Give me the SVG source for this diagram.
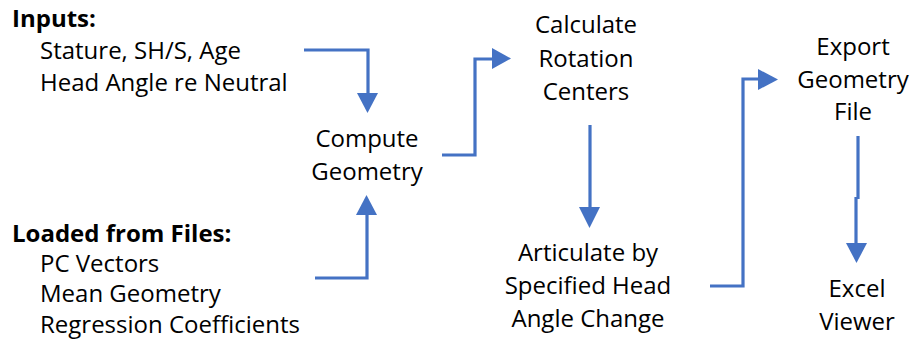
<svg xmlns="http://www.w3.org/2000/svg" width="918" height="346" viewBox="0 0 918 346">
<style>
text{font-family:"Open Sans",Lato,sans-serif;font-size:24px;fill:#000}
.b{font-weight:bold}
.c{text-anchor:middle}
.ln{fill:none;stroke:#4472C4;stroke-width:3.2;stroke-linejoin:miter}
.hd{fill:#4472C4}
</style>
<rect width="918" height="346" fill="#fff"/>
<g id="inputs">
<text x="12" y="27" class="b">Inputs:</text>
<text x="40" y="59">Stature, SH/S, Age</text>
<text x="40" y="91">Head Angle re Neutral</text>
</g>
<g id="loaded">
<text x="12" y="242" class="b">Loaded from Files:</text>
<text x="40" y="272">PC Vectors</text>
<text x="40" y="302">Mean Geometry</text>
<text x="40" y="333">Regression Coefficients</text>
</g>
<g id="compute">
<text x="367" y="147" class="c">Compute</text>
<text x="367" y="180" class="c">Geometry</text>
</g>
<g id="calculate">
<text x="586" y="33" class="c">Calculate</text>
<text x="586" y="67" class="c">Rotation</text>
<text x="586" y="100" class="c">Centers</text>
</g>
<g id="articulate">
<text x="588" y="261" class="c">Articulate by</text>
<text x="588" y="294" class="c">Specified Head</text>
<text x="588" y="327" class="c">Angle Change</text>
</g>
<g id="export">
<text x="853" y="55" class="c">Export</text>
<text x="853" y="88" class="c">Geometry</text>
<text x="853" y="120" class="c">File</text>
</g>
<g id="excel">
<text x="857" y="297" class="c">Excel</text>
<text x="857" y="330" class="c">Viewer</text>
</g>
<g id="connectors">
<polyline class="ln" points="304,50 368,50 368,95"/>
<polygon class="hd" points="357,93 378,93 367.5,113"/>
<polyline class="ln" points="315,278 367,278 367,213"/>
<polygon class="hd" points="356,215 377,215 366.5,195"/>
<polyline class="ln" points="442,155 475,155 475,59 494,59"/>
<polygon class="hd" points="492,48 492,69 511,58.5"/>
<polyline class="ln" points="590,125 590,209"/>
<polygon class="hd" points="579,207 600,207 589.5,228"/>
<polyline class="ln" points="710,286 743,286 743,79 760,79"/>
<polygon class="hd" points="758,69 758,90 778,79.5"/>
<polyline class="ln" points="858,136 858,199"/>
<polyline class="ln" points="856,197 856,245"/>
<polygon class="hd" points="846,243 867,243 856.5,263"/>
</g>
</svg>
